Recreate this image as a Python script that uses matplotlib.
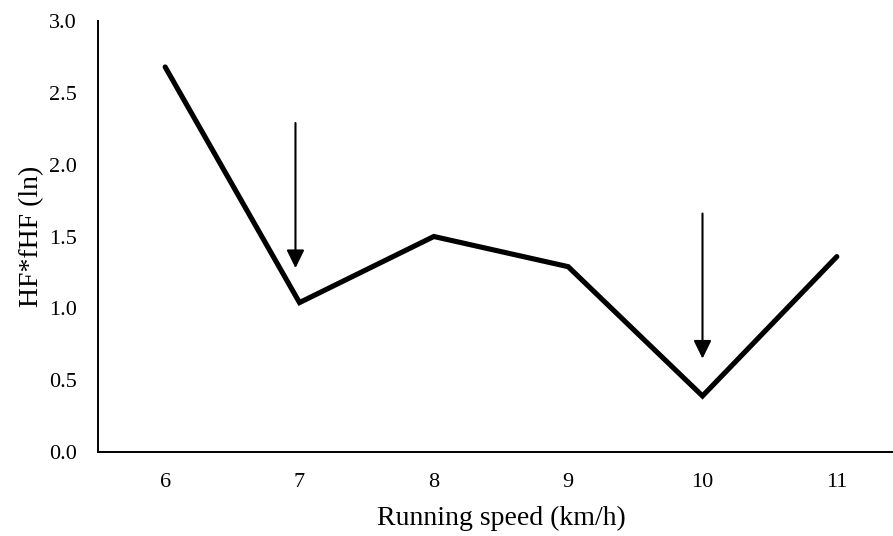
import numpy as np
from matplotlib import pyplot as plt

# Running speed categories and the HF*fHF values at each
speeds = ['6', '7', '8', '9', '10', '11']
hf_fhf = [2.68, 1.04, 1.50, 1.29, 0.39, 1.36]

# Arrows marking the two thresholds: (x position, top, tip)
arrow_x = [0.97, 4.0]
arrow_top = [2.29, 1.66]
arrow_tip = [1.28, 0.65]

plt.rcParams['font.family'] = ['Liberation Serif', 'DejaVu Serif']

fig = plt.figure(figsize=(8.93, 5.36), dpi=100)
ax = fig.add_axes([98/893, 84/536, 806/893, 431/536])

x = np.arange(len(speeds))
ax.plot(x, hf_fhf, color='black', lw=3.7, solid_capstyle='round', solid_joinstyle='miter')

for xa, top, tip in zip(arrow_x, arrow_top, arrow_tip):
    ax.annotate('', xy=(xa, tip), xytext=(xa, top),
                arrowprops=dict(arrowstyle='-|>,head_length=0.55,head_width=0.27',
                                mutation_scale=20, lw=1.5, color='black',
                                shrinkA=0, shrinkB=0))

ax.set_xlim(-0.5, len(speeds) - 0.5)
ax.set_ylim(0, 3.0)
ax.set_xticks(x)
ax.set_xticklabels(speeds)
ax.set_yticks(np.arange(0, 3.01, 0.5))
ax.set_yticklabels(['%.1f' % v for v in np.arange(0, 3.01, 0.5)])

for side in ['top', 'right']:
    ax.spines[side].set_visible(False)
for side in ['left', 'bottom']:
    ax.spines[side].set_linewidth(1.4)

ax.tick_params(axis='both', length=0, labelsize=16)
ax.tick_params(axis='y', pad=15)
ax.tick_params(axis='x', pad=15)

ax.set_xlabel('Running speed (km/h)', fontsize=20, labelpad=10)
ax.set_ylabel('HF*fHF (ln)', fontsize=20, labelpad=4)

fig.savefig('out.png', dpi=100)
